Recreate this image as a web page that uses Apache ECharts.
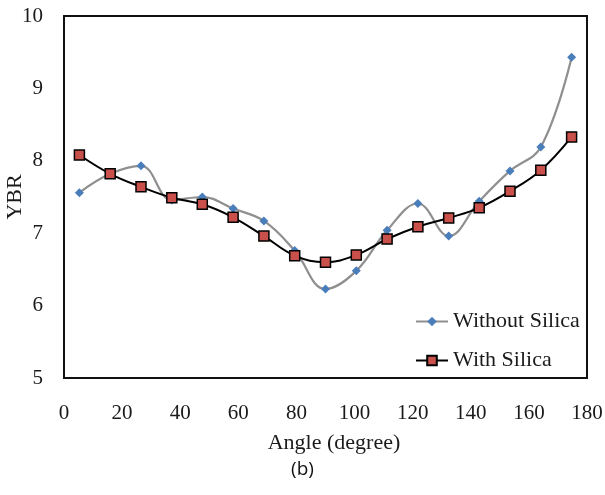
<!DOCTYPE html>
<html>
<head>
<meta charset="utf-8">
<script src="https://cdn.jsdelivr.net/npm/echarts@6/dist/echarts.min.js"></script>
<style>
  html, body { margin: 0; padding: 0; background: #fff; }
  #chart { width: 605px; height: 495px; }
</style>
</head>
<body>
<div id="chart"></div>
<script>
// Scattering angle (degree) at which YBR was measured
const angles = [5.3, 15.9, 26.5, 37.1, 47.6, 58.2, 68.8, 79.4, 90.0, 100.6, 111.2, 121.8, 132.4, 142.9, 153.5, 164.1, 174.7];
// YBR without silica
const withoutSilica = [7.56, 7.82, 7.93, 7.46, 7.50, 7.34, 7.17, 6.76, 6.23, 6.48, 7.04, 7.41, 6.96, 7.44, 7.86, 8.19, 9.43];
// YBR with silica
const withSilica = [8.08, 7.82, 7.64, 7.49, 7.40, 7.22, 6.96, 6.69, 6.60, 6.70, 6.92, 7.09, 7.21, 7.35, 7.58, 7.87, 8.33];
// Axis ticks
const xTicks = [0, 20, 40, 60, 80, 100, 120, 140, 160, 180];
const yTicks = [5, 6, 7, 8, 9, 10];

const serif = '"Liberation Serif", "Times New Roman", serif';
const pair = (xs, ys) => xs.map((x, i) => [x, ys[i]]);

const chart = echarts.init(document.getElementById('chart'), null, { renderer: 'canvas' });
chart.setOption({
  animation: false,
  backgroundColor: '#fff',
  grid: {
    left: 64, top: 16, right: 18, bottom: 117,
    containLabel: false, outerBoundsMode: 'none',
    show: true, borderColor: '#111', borderWidth: 2, backgroundColor: 'transparent'
  },
  xAxis: {
    type: 'value',
    min: xTicks[0], max: xTicks[xTicks.length - 1], interval: 20,
    name: 'Angle (degree)', nameLocation: 'middle', nameGap: 54, nameMoveOverlap: false,
    nameTextStyle: { fontFamily: serif, fontSize: 22, color: '#1a1a1a', padding: [0, 0, 0, 17] },
    axisLine: { show: false }, axisTick: { show: false }, splitLine: { show: false },
    axisLabel: { fontFamily: serif, fontSize: 21, color: '#1a1a1a', margin: 25 }
  },
  yAxis: {
    type: 'value',
    min: yTicks[0], max: yTicks[yTicks.length - 1], interval: 1,
    name: 'YBR', nameLocation: 'middle', nameGap: 38, nameMoveOverlap: false,
    nameTextStyle: { fontFamily: serif, fontSize: 22, color: '#1a1a1a' },
    axisLine: { show: false }, axisTick: { show: false }, splitLine: { show: false },
    axisLabel: { fontFamily: serif, fontSize: 21, color: '#1a1a1a', margin: 21 }
  },
  legend: {
    orient: 'vertical', left: 415, top: 309, padding: 0,
    itemWidth: 32, itemHeight: 12, itemGap: 14,
    textStyle: { fontFamily: serif, fontSize: 22, color: '#1a1a1a', lineHeight: 25 },
    data: ['Without Silica', 'With Silica']
  },
  series: [
    {
      name: 'Without Silica', type: 'line', smooth: 0.4,
      data: pair(angles, withoutSilica),
      symbol: 'diamond', symbolSize: 9,
      lineStyle: { color: '#8f8f8f', width: 2.2 },
      itemStyle: { color: '#4a7ebb', borderColor: '#4a7ebb', borderWidth: 0 },
      z: 2
    },
    {
      name: 'With Silica', type: 'line', smooth: 0.4,
      data: pair(angles, withSilica),
      symbol: 'rect', symbolSize: 10,
      lineStyle: { color: '#000', width: 2 },
      itemStyle: { color: '#c9504b', borderColor: '#000', borderWidth: 1.5 },
      z: 3
    }
  ],
  graphic: [{
    type: 'text', left: 'center', top: 460,
    style: { text: '(b)', font: '19px "Open Sans", "Liberation Sans", sans-serif', fill: '#111' }
  }]
});
</script>
</body>
</html>
